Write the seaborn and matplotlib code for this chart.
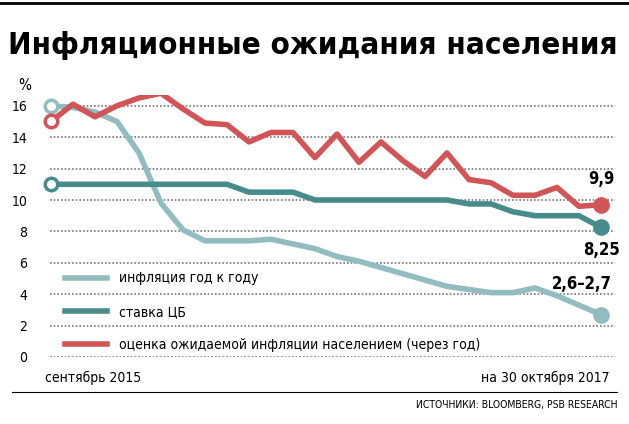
import pandas as pd
import seaborn as sns
import matplotlib.pyplot as plt
from matplotlib.lines import Line2D

plt.rcParams["font.family"] = "DejaVu Sans"
plt.rcParams["font.stretch"] = "condensed"

months = list(range(26))  # сентябрь 2015 .. октябрь 2017
inflation = [16.0, 15.9, 15.6, 15.0, 13.0, 9.8, 8.1, 7.4, 7.4, 7.4, 7.5, 7.2, 6.9,
             6.4, 6.1, 5.7, 5.3, 4.9, 4.5, 4.3, 4.1, 4.1, 4.4, 3.9, 3.3, 2.7]
key_rate = [11.0, 11.0, 11.0, 11.0, 11.0, 11.0, 11.0, 11.0, 11.0, 10.5, 10.5, 10.5, 10.0,
            10.0, 10.0, 10.0, 10.0, 10.0, 10.0, 9.75, 9.75, 9.25, 9.0, 9.0, 9.0, 8.25]
expected = [15.0, 16.1, 15.3, 16.0, 16.5, 16.8, 15.8, 14.9, 14.8, 13.7, 14.3, 14.3, 12.7,
            14.2, 12.4, 13.7, 12.5, 11.5, 13.0, 11.3, 11.1, 10.3, 10.3, 10.8, 9.6, 9.7]
yticks = [0, 2, 4, 6, 8, 10, 12, 14, 16]

c_inf, c_rate, c_exp = "#93bcc1", "#478b8b", "#d05558"
df = pd.DataFrame({"m": months, "inf": inflation, "rate": key_rate, "exp": expected})

fig = plt.figure(figsize=(6.29, 4.24), dpi=100)
ax = fig.add_axes([35 / 629, 1 - 357 / 424, 580 / 629, 262 / 424])
ax.set_xlim(-16 / 22, 25 + 14 / 22)
ax.set_ylim(0, 262 / 15.7)

for y in yticks:
    ax.axhline(y, color="#777777", lw=1.2, ls=(0, (1, 1.2)), xmin=15 / 580, zorder=0)

for col, c in [("inf", c_inf), ("rate", c_rate), ("exp", c_exp)]:
    sns.lineplot(data=df, x="m", y=col, color=c, lw=4, ax=ax, zorder=3)
    ax.plot(0, df[col].iloc[0], "o", ms=9, mfc="white", mec=c, mew=2.5, zorder=4)
    ax.plot(25, df[col].iloc[-1], "o", ms=11, color=c, zorder=4)

ax.text(25, 11.0, "9,9", ha="center", fontsize=12, fontweight="bold")
ax.text(25, 6.5, "8,25", ha="center", fontsize=12, fontweight="bold")
ax.text(25.5, 4.3, "2,6–2,7", ha="right", fontsize=12, fontweight="bold")

ax.set_yticks(yticks)
ax.set_yticklabels([str(v) for v in yticks], fontsize=10)
ax.tick_params(left=False, bottom=False, pad=2)
ax.set_xticks([])
ax.set_xlabel("")
ax.set_ylabel("")
for s in ax.spines.values():
    s.set_visible(False)

handles = [Line2D([], [], color=c, lw=4) for c in (c_inf, c_rate, c_exp)]
labels = ["инфляция год к году", "ставка ЦБ",
          "оценка ожидаемой инфляции населением (через год)"]
leg = ax.legend(handles, labels, loc="lower left", bbox_to_anchor=(0.03, -0.03),
                frameon=False, fontsize=10, handlelength=3, labelspacing=1.4,
                handletextpad=0.9)
for t in leg.get_texts():
    t.set_bbox(dict(facecolor="white", edgecolor="none", pad=1))

fig.text(18 / 629, 1 - 90 / 424, "%", fontsize=11)
fig.text(8 / 629, 1 - 45 / 424, "Инфляционные ожидания населения", fontsize=22.5,
         fontweight="bold", va="center")
fig.add_artist(Line2D([0, 1], [1 - 3 / 424] * 2, color="black", lw=2))
fig.text(45 / 629, 1 - 378 / 424, "сентябрь 2015", fontsize=10, va="center")
fig.text(610 / 629, 1 - 378 / 424, "на 30 октября 2017", fontsize=10, va="center", ha="right")
fig.add_artist(Line2D([12 / 629, 617 / 629], [1 - 392 / 424] * 2, color="black", lw=0.8))
fig.text(617 / 629, 1 - 405 / 424, "ИСТОЧНИКИ: BLOOMBERG, PSB RESEARCH", fontsize=7.5,
         va="center", ha="right")

fig.savefig("out.png", dpi=100)
